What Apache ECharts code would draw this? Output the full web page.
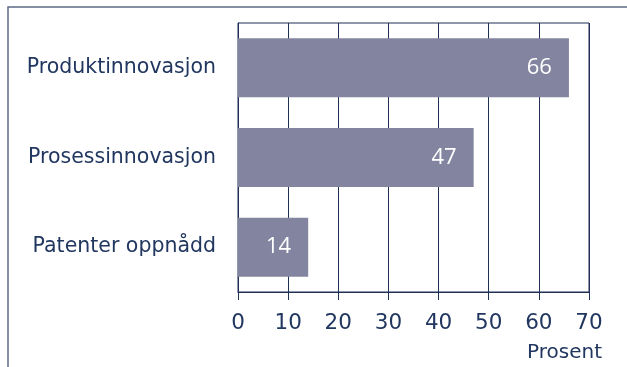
<!DOCTYPE html>
<html>
<head>
<meta charset="utf-8">
<script src="https://cdn.jsdelivr.net/npm/echarts@6/dist/echarts.min.js"></script>
<style>
  html, body { margin: 0; padding: 0; background: #fff; }
  #chart { width: 627px; height: 367px; }
</style>
</head>
<body>
<div id="chart"></div>
<script>
  // data
  const categories = ['Produktinnovasjon', 'Prosessinnovasjon', 'Patenter oppnådd'];
  const values = [66, 47, 14];
  const axisTitle = 'Prosent';

  const navy = '#1f2f55';
  const textColor = '#213760';
  const barColor = '#83849f';

  const chart = echarts.init(document.getElementById('chart'));

  chart.setOption({
    animation: false,
    grid: {
      left: 238,
      top: 23,
      right: 38,
      bottom: 75,
      show: true,
      borderColor: navy,
      borderWidth: 1
    },
    xAxis: {
      type: 'value',
      min: 0,
      max: 70,
      interval: 10,
      axisLine: { show: true, lineStyle: { color: navy, width: 1 } },
      axisTick: { show: true, length: 8, lineStyle: { color: navy } },
      splitLine: { show: true, lineStyle: { color: navy, width: 1 } },
      axisLabel: {
        color: textColor,
        fontFamily: 'DejaVu Sans',
        fontSize: 21.5,
        margin: 20
      }
    },
    yAxis: {
      type: 'category',
      inverse: true,
      data: categories,
      axisLine: { show: true, lineStyle: { color: navy, width: 1 } },
      axisTick: { show: false },
      axisLabel: {
        color: textColor,
        fontFamily: 'DejaVu Sans',
        fontSize: 20.5,
        margin: 22
      }
    },
    series: [
      {
        type: 'bar',
        data: values,
        barWidth: 59,
        itemStyle: { color: barColor },
        label: {
          show: true,
          position: 'insideRight',
          distance: 17,
          color: '#ffffff',
          fontFamily: 'Open Sans',
          fontSize: 22
        }
      }
    ],
    graphic: [
      {
        type: 'polyline',
        silent: true,
        shape: { points: [[8, 367], [8, 7], [627, 7]] },
        style: { stroke: '#5d6b87', lineWidth: 1.5, fill: null }
      },
      {
        type: 'text',
        right: 25,
        top: 343,
        style: {
          text: axisTitle,
          fill: textColor,
          font: '20px "DejaVu Sans"'
        }
      }
    ]
  });
</script>
</body>
</html>
